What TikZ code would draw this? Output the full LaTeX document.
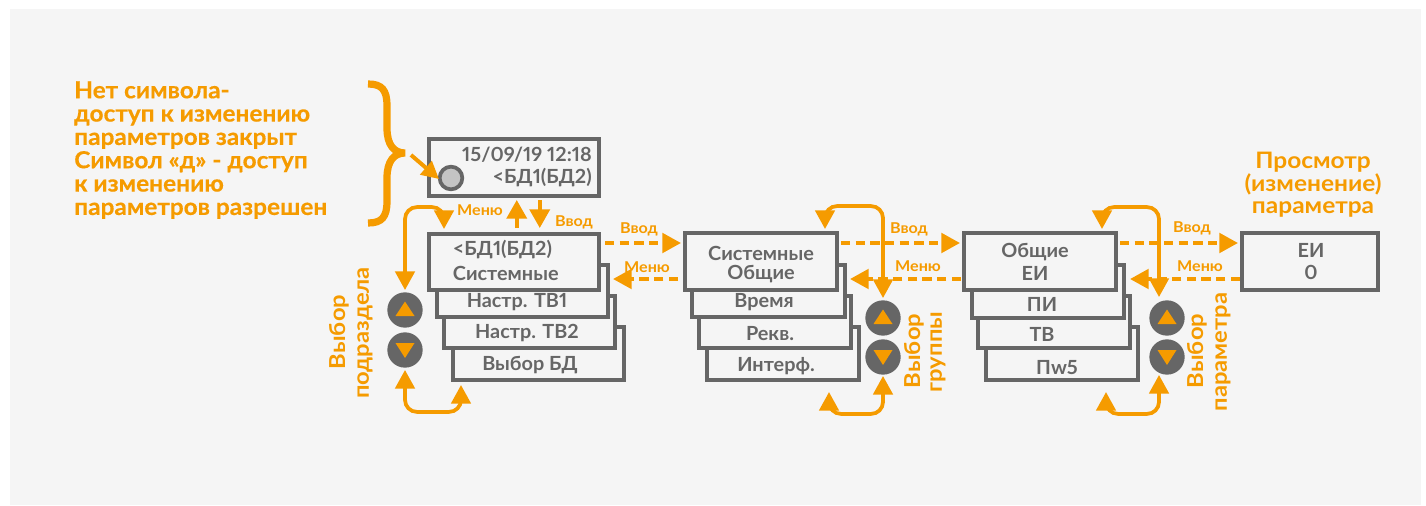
\documentclass[tikz,border=0pt]{standalone}
\usepackage{fontspec}
\setmainfont[FakeStretch=1.08,Numbers=Proportional]{Lato}
\newfontfamily\boxf[FakeStretch=1.02,Numbers=Proportional]{Lato Bold}
\newfontfamily\labf[FakeStretch=1.08,Numbers=Proportional]{Lato Bold}
\newfontfamily\notef[FakeStretch=1.04,FakeBold=0.4]{Lato Bold}
\usetikzlibrary{arrows.meta,calc}
\definecolor{org}{HTML}{F59B00}
\definecolor{gry}{HTML}{666666}
\definecolor{pan}{HTML}{F5F5F5}
\definecolor{dot}{HTML}{C4C4C4}
\tikzset{
  x=0.75pt,y=-0.75pt,
  boxn/.style={draw=gry,fill=pan,line width=3pt,inner sep=0pt},
  btxt/.style={text=gry,inner sep=0pt,font=\fontsize{14.6pt}{15pt}\boxf},
  ltxt/.style={text=org,inner sep=0pt,font=\fontsize{11.2pt}{12pt}\labf},
  rtxt/.style={text=org,inner sep=0pt,rotate=90,font=\fontsize{16.5pt}{17pt}\labf},
  head/.style={text=org,inner sep=0pt,align=center,font=\fontsize{17pt}{17pt}\labf},
  lpath/.style={draw=org,line width=2.8pt,rounded corners=9pt,{Triangle[length=14pt,width=14.5pt]}-{Triangle[length=14pt,width=14.5pt]}},
  sarr/.style={draw=org,line width=2.8pt,-{Triangle[length=14pt,width=15pt]}},
  darr/.style={draw=org,line width=3pt,dash pattern=on 7pt off 4pt,-{Triangle[length=14pt,width=14.5pt]}},
  btn/.style={circle,fill=gry,minimum size=26.5pt,inner sep=0pt},
}
\newcommand{\pbox}[5]{\node[boxn,minimum width={(#4-#2)*0.75pt},minimum height={(#5-#3)*0.75pt}] (#1) at ({(#2+#4)/2},{(#3+#5)/2}) {};}
\newcommand{\upbtn}[3]{\node[btn] (#1) at (#2,#3) {};\fill[org] ($(#1)+(0,-8.5)$) -- ($(#1)+(9.5,6)$) -- ($(#1)+(-9.5,6)$) -- cycle;}
\newcommand{\dnbtn}[3]{\node[btn] (#1) at (#2,#3) {};\fill[org] ($(#1)+(0,8)$) -- ($(#1)+(9.5,-7)$) -- ($(#1)+(-9.5,-7)$) -- cycle;}
\begin{document}
\begin{tikzpicture}
\useasboundingbox (0,0) rectangle (1426,506);
\fill[white] (0,0) rectangle (1426,506);
\fill[pan] (10,9) rectangle (1421,505);

% left text
\node[text=org,inner sep=0pt,anchor=north west,align=left,font=\fontsize{17.6pt}{17.5pt}\notef] (note) at (74,81)
 {Нет символа-\\доступ к изменению\\параметров закрыт\\Символ «д» - доступ\\к изменению\\параметров разрешен};
\draw[org,line width=5.4pt,line join=miter] (368,84) .. controls (382,84) and (387,90) .. (387,106) -- (387,128) .. controls (387,145) and (394,153) .. (405,153) .. controls (394,153) and (387,161) .. (387,178) -- (387,201) .. controls (387,217) and (382,223) .. (368,223);

% top box
\pbox{top}{428.5}{139}{599}{196}
\node[btxt,anchor=east] (tt1) at (592,155) {15/09/19 12:18};
\node[btxt,anchor=east] (tt2) at (592,178) {<БД1(БД2)};
\node[circle,draw=gry,fill=dot,line width=2.8pt,minimum size=17pt,inner sep=0pt] (led) at (451,178) {};
\coordinate (ledsrc) at (411,155);
\draw[org,line width=3pt,-{Triangle[length=13pt,width=13pt]}] (ledsrc) -- ($(led)+(-12,1)$);

% column 1
\pbox{a4}{453}{327}{624}{380}
\pbox{a3}{444}{296}{615}{348}
\pbox{a2}{437}{265}{607.5}{317}
\pbox{a1}{428.5}{234}{599}{290}
\node[btxt,anchor=west] (a1a) at (452.7,250) {<БД1(БД2)};
\node[btxt,anchor=west] (a1b) at (452.7,273) {Системные};
\node[btxt] (a2t) at (517,302) {Настр. ТВ1};
\node[btxt] (a3t) at (527,333) {Настр. ТВ2};
\node[btxt] (a4t) at (530,365) {Выбор БД};
\upbtn{u1}{405}{310}
\dnbtn{d1}{405}{350}

% column 2
\pbox{b4}{707}{327}{859}{380}
\pbox{b3}{699}{296}{851}{348}
\pbox{b2}{692}{265}{845}{317}
\pbox{b1}{685}{233}{837}{290}
\node[btxt] (b1a) at (761,253) {Системные};
\node[btxt] (b1b) at (761,274) {Общие};
\node[btxt] (b2t) at (764,302) {Время};
\node[btxt] (b3t) at (770,334) {Рекв.};
\node[btxt] (b4t) at (776,366) {Интерф.};
\upbtn{u2}{883}{318}
\dnbtn{d2}{883}{357}

% column 3
\pbox{c4}{986}{327}{1138}{380}
\pbox{c3}{978}{296}{1130}{348}
\pbox{c2}{972}{265}{1124}{318}
\pbox{c1}{964}{233}{1116}{290}
\node[btxt] (c1a) at (1035,252) {Общие};
\node[btxt] (c1b) at (1035,273) {ЕИ};
\node[btxt] (c2t) at (1042,304) {ПИ};
\node[btxt] (c3t) at (1042,334) {ТВ};
\node[btxt] (c4t) at (1057,368) {Пw5};
\upbtn{u3}{1167}{318}
\dnbtn{d3}{1167}{357}

% last box
\pbox{e1}{1242}{233}{1378}{290}
\node[btxt] (e1a) at (1311,250) {ЕИ};
\node[btxt] (e1b) at (1311,272) {0};

% dashed
\draw[darr] ($(a1.east)+(4,-19)$) -- ($(b1.west)+(-2,-18.5)$);
\draw[darr] ($(b1.west)+(-5,17.5)$) -- ($(a2.east)+(3.5,-12)$);
\draw[darr] ($(b1.east)+(2,-18.5)$) -- ($(c1.west)+(-2,-18.5)$);
\draw[darr] ($(c1.west)+(-1,17.5)$) -- ($(b2.east)+(3,-12)$);
\draw[darr] ($(c1.east)+(2,-18.5)$) -- ($(e1.west)+(-2,-18.5)$);
\draw[darr] ($(e1.west)+(0,17.5)$) -- ($(c2.east)+(4,-12.5)$);

% vertical arrows
\draw[sarr] ($(a1.north)+(3,-4)$) -- ($(top.south)+(3,2)$);
\draw[sarr] ($(top.south)+(26,2)$) -- ($(a1.north)+(26,-4)$);

% loops
\draw[lpath] ($(u1.north)+(0,-2)$) -- ++(0,-83) -| ($(a1.north west)+(17.5,-3)$);
\draw[lpath] ($(d1.south)+(0,2)$) -- ++(0,42) -| ($(a4.south west)+(10,3)$);
\draw[lpath] ($(u2.north)+(0,-2)$) -- ++(0,-92) -| ($(b1.north west)+(142,-2)$);
\draw[lpath] ($(d2.south)+(0,1)$) -- ++(0,38) -| ($(b4.south east)+(-32,10)$);
\draw[lpath] ($(u3.north)+(-8,-3)$) -- ++(0,-90) -| ($(c1.north west)+(140,-2)$);
\draw[lpath] ($(d3.south)+(-8,0)$) -- ++(0,39) -| ($(c4.south east)+(-34,10)$);

% labels
\node[ltxt] (m0) at (480,210) {Меню};
\node[ltxt] (v0) at (574,222) {Ввод};
\node[ltxt] (v1) at (639,229) {Ввод};
\node[ltxt] (m1) at (647,267) {Меню};
\node[ltxt] (v2) at (909,229) {Ввод};
\node[ltxt] (m2) at (918,266) {Меню};
\node[ltxt] (v3) at (1192,228) {Ввод};
\node[ltxt] (m3) at (1200,266) {Меню};

\node[rtxt] (s1a) at (339,332) {Выбор};
\node[rtxt] (s1b) at (365,333) {подраздела};
\node[rtxt] (s2a) at (914,351) {Выбор};
\node[rtxt] (s2b) at (938,352) {группы};
\node[rtxt] (s3a) at (1197,351) {Выбор};
\node[rtxt] (s3b) at (1223,352) {параметра};

\node[head] (h1) at (1313,185) {Просмотр\\(изменение)\\параметра};
\end{tikzpicture}
\end{document}
